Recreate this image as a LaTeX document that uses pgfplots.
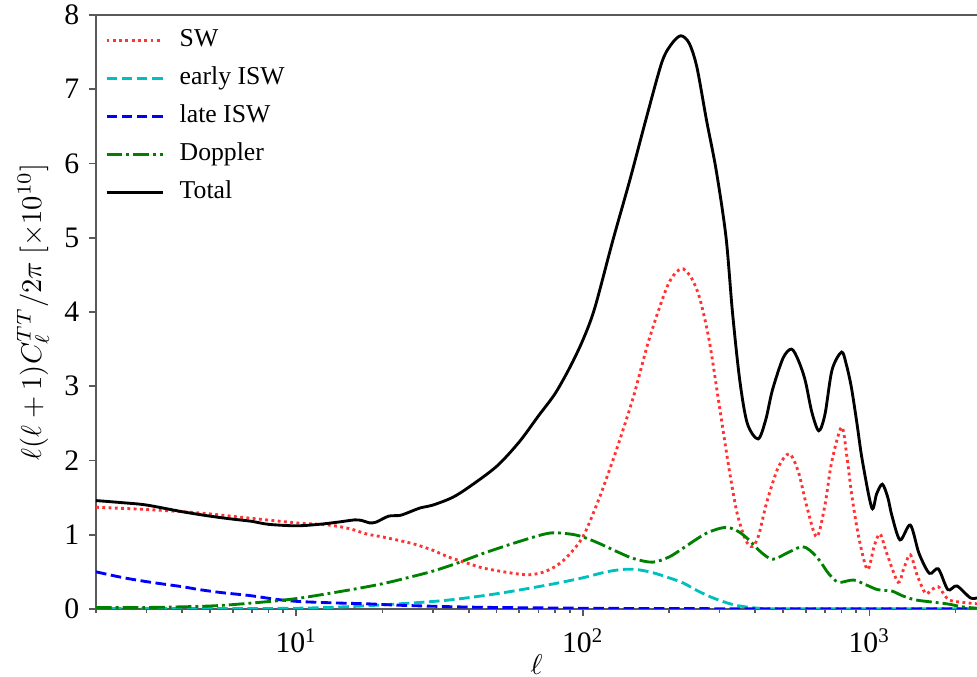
\documentclass[border=0pt]{standalone}
\usepackage{fontspec}
\setmainfont{Liberation Serif}
\usepackage{pgfplots}
\pgfplotsset{compat=1.18}
\definecolor{mplgreen}{rgb}{0,0.5,0}
\definecolor{mplcyan}{rgb}{0,0.75,0.75}
\definecolor{mplred}{rgb}{1,0.2,0.2}
\begin{document}
\begin{tikzpicture}
\begin{axis}[
  scale only axis, width=308.35pt, height=207.9pt,
  xmode=log, xmin=2, xmax=2375, ymin=0, ymax=8,
  axis lines=left, axis line style={-, black!65, line width=0.7pt},
  tick align=outside, major tick length=2.3pt, minor tick length=1.4pt,
  tick style={black!65, line width=0.6pt},
  xtick={10,100,1000},
  xticklabels={10\textsuperscript{1},10\textsuperscript{2},10\textsuperscript{3}},
  minor xtick={2,3,4,5,6,7,8,9,20,30,40,50,60,70,80,90,200,300,400,500,600,700,800,900,2000},
  ytick={0,1,2,3,4,5,6,7,8},
  yticklabels={0,1,2,3,4,5,6,7,8},
  tick label style={font=\fontsize{10.4}{12}\selectfont},
  xticklabel style={yshift=-1pt},
  xlabel={$\ell$},
  ylabel={$\ell(\ell+1)C_\ell^{TT}/2\pi\ [\times 10^{10}]$},
  xlabel style={at={(axis description cs:0.5,0)}, anchor=center, yshift=-19.5pt, font=\fontsize{10.4}{12}\selectfont},
  ylabel style={at={(axis description cs:0,0.5)}, anchor=center, rotate=0, yshift=22pt, font=\fontsize{10.4}{12}\selectfont},
  legend style={at={(axis description cs:0,1)}, anchor=north west, draw=none, fill=none,
    font=\fontsize{9}{10}\selectfont, row sep=1.8pt, column sep=4pt, inner xsep=3pt, inner ysep=3pt,
    nodes={text height=6.5pt, text depth=2pt, inner sep=1.5pt}},
  legend cell align=left,
  legend image code/.code={\draw[#1] (0pt,0pt) -- (19.6pt,0pt);},
  every axis plot/.append style={smooth, tension=0.5},
]
\addplot[mplred, line width=1pt, dash pattern=on 1pt off 1.2pt] table {
2 1.37
3 1.34
4 1.31
5 1.28
7 1.22
10 1.16
13 1.13
15.4 1.08
17.6 1.01
20 0.97
23 0.92
26 0.87
30 0.79
34 0.70
40 0.61
45 0.55
55 0.49
64 0.46
72 0.49
80 0.57
88 0.70
100 0.97
113 1.45
122 1.80
132 2.18
150 2.85
170 3.62
195 4.30
210 4.52
224 4.58
240 4.45
256 4.18
276 3.62
300 2.72
322 1.95
345 1.30
370 0.93
390 0.84
410 0.98
438 1.43
480 1.90
525 2.09
565 1.85
605 1.38
655 0.97
700 1.40
738 1.97
800 2.45
835 2.05
870 1.51
920 0.95
985 0.53
1040 0.85
1090 1.01
1150 0.75
1260 0.36
1320 0.55
1390 0.73
1470 0.45
1570 0.21
1650 0.26
1740 0.30
1820 0.20
1900 0.12
2100 0.09
2375 0.07
};
\addlegendentry{SW}
\addplot[mplcyan, line width=1pt, dash pattern=on 3.7pt off 1.6pt] table {
2 0.005
5 0.005
10 0.01
15 0.03
23 0.07
34 0.12
51 0.21
77 0.33
100 0.42
115 0.48
127 0.515
141 0.535
155 0.53
175 0.49
200 0.42
224 0.35
250 0.25
280 0.16
320 0.08
353 0.04
410 0.01
500 0.003
2375 0.002
};
\addlegendentry{early ISW}
\addplot[blue, line width=1pt, dash pattern=on 3.7pt off 1.6pt] table {
2 0.50
2.5 0.42
3.1 0.36
4 0.30
4.6 0.26
5.5 0.22
6.9 0.18
8.5 0.13
10.3 0.10
14 0.08
17.6 0.07
23 0.05
35 0.03
50 0.02
100 0.01
200 0.005
500 0.003
2375 0.003
};
\addlegendentry{late ISW}
\addplot[mplgreen, line width=1pt, dash pattern=on 5.5pt off 1.4pt on 1pt off 1.4pt] table {
2 0.02
3 0.02
5 0.04
7 0.08
10 0.14
15 0.25
20 0.34
25 0.43
30 0.51
36 0.61
45 0.75
59 0.90
76 1.02
90 1.01
100 0.97
113 0.89
132 0.77
150 0.68
175 0.63
200 0.70
224 0.82
270 1.02
316 1.10
350 1.04
380 0.93
420 0.76
461 0.67
520 0.76
581 0.84
620 0.79
668 0.66
720 0.48
780 0.36
880 0.39
980 0.32
1070 0.26
1200 0.24
1300 0.18
1460 0.12
1860 0.07
2100 0.03
2375 0.01
};
\addlegendentry{Doppler}
\addplot[black, line width=1pt] table {
2 1.46
2.5 1.43
3 1.40
4 1.31
5 1.25
6 1.21
7 1.18
8 1.14
10 1.12
12 1.14
14 1.17
16 1.20
17 1.19
18 1.16
19 1.17
21 1.25
23 1.26
25 1.31
27 1.36
30 1.40
35 1.50
40 1.64
50 1.92
60 2.25
70 2.60
80 2.90
90 3.25
100 3.62
110 4.05
127 4.95
146 5.78
166 6.59
189 7.37
205 7.62
220 7.72
235 7.62
250 7.30
270 6.59
292 5.91
316 5.01
333 3.99
353 3.08
375 2.50
409 2.29
435 2.55
459 2.95
500 3.38
535 3.50
565 3.35
597 3.08
630 2.65
666 2.40
700 2.62
741 3.22
800 3.46
830 3.30
865 2.99
905 2.50
945 2.00
1020 1.36
1060 1.55
1110 1.68
1160 1.50
1200 1.25
1280 0.93
1390 1.13
1490 0.75
1620 0.48
1740 0.54
1880 0.26
2020 0.31
2250 0.15
2375 0.15
};
\addlegendentry{Total}
\coordinate (SW) at (rel axis cs:0,0);
\coordinate (NE) at (rel axis cs:1,1);
\end{axis}
\draw[black!65, line width=0.7pt] (SW |- NE) -- (NE);
\pgfresetboundingbox
\path ([xshift=-33.6pt, yshift=-23.8pt]SW) rectangle ([yshift=5.25pt]NE);
\end{tikzpicture}
\end{document}
